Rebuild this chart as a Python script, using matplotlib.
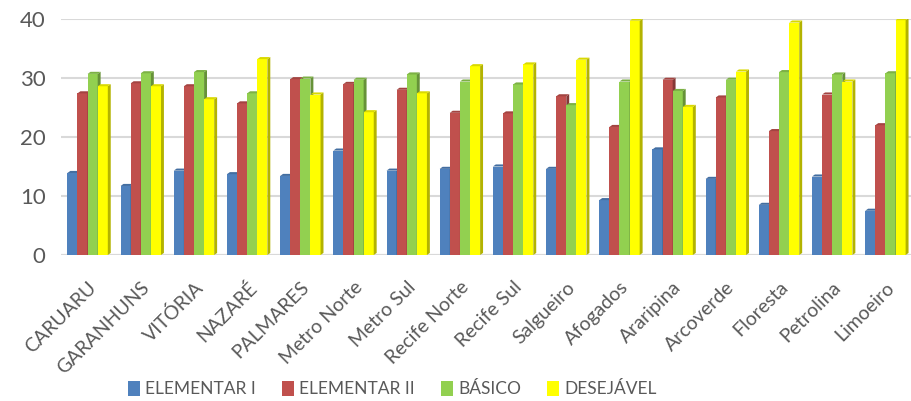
import matplotlib.pyplot as plt
import numpy as np
from matplotlib.patches import Polygon, Patch
import matplotlib.colors as mcolors

# data
regions = ['CARUARU', 'GARANHUNS', 'VITÓRIA', 'NAZARÉ', 'PALMARES', 'Metro Norte',
           'Metro Sul', 'Recife Norte', 'Recife Sul', 'Salgueiro', 'Afogados',
           'Araripina', 'Arcoverde', 'Floresta', 'Petrolina', 'Limoeiro']
elementar1 = [13.9, 11.7, 14.3, 13.7, 13.4, 17.7, 14.3, 14.6, 15.0, 14.6, 9.3, 17.9, 12.9, 8.5, 13.3, 7.5]
elementar2 = [27.4, 29.1, 28.6, 25.7, 29.8, 29.0, 28.0, 24.1, 24.0, 26.9, 21.7, 29.7, 26.7, 21.0, 27.2, 22.0]
basico = [30.7, 30.8, 31.0, 27.4, 29.9, 29.7, 30.6, 29.4, 28.9, 25.4, 29.4, 27.8, 29.7, 31.0, 30.6, 30.8]
desejavel = [28.6, 28.6, 26.4, 33.2, 27.2, 24.2, 27.4, 32.0, 32.3, 33.1, 39.7, 25.1, 31.1, 39.4, 29.4, 39.8]
series_names = ['ELEMENTAR I', 'ELEMENTAR II', 'BÁSICO', 'DESEJÁVEL']
colors = ['#4F81BD', '#C0504D', '#92D050', '#FFFF00']

font = ['Lato', 'DejaVu Sans']
grey = '#595959'

fig = plt.figure(figsize=(9.12, 4.01), dpi=100)
ax = fig.add_axes([61/912, (401-255)/401, 851/912, 236/401])

x = np.arange(len(regions))
w = 0.19
depth_x = 0.055
depth_y = 0.35

def shade(c, f):
    r, g, b = mcolors.to_rgb(c)
    return (r*f, g*f, b*f)

all_series = [elementar1, elementar2, basico, desejavel]
for k, vals in enumerate(all_series):
    xs = x + (k - 1.5) * w
    ax.bar(xs, vals, w, color=colors[k], zorder=3 + k)
    for xi, v in zip(xs, vals):
        # side face
        side = Polygon([(xi + w/2, 0), (xi + w/2 + depth_x, depth_y),
                        (xi + w/2 + depth_x, v + depth_y), (xi + w/2, v)],
                       closed=True, facecolor=shade(colors[k], 0.7), edgecolor='none', zorder=3 + k)
        ax.add_patch(side)
        # top face
        top = Polygon([(xi - w/2, v), (xi + w/2, v), (xi + w/2 + depth_x, v + depth_y),
                       (xi - w/2 + depth_x, v + depth_y)],
                      closed=True, facecolor=shade(colors[k], 0.85), edgecolor='none', zorder=3 + k)
        ax.add_patch(top)

ax.set_xlim(-0.5, len(regions) - 0.5)
ax.set_ylim(0, 40)
ax.set_yticks([0, 10, 20, 30, 40])
ax.yaxis.grid(True, color='#D9D9D9', linewidth=1.5, zorder=0)
ax.axhline(0, color='#D9D9D9', linewidth=1.5, zorder=1)
for s in ax.spines.values():
    s.set_visible(False)
ax.tick_params(axis='both', length=0)
ax.tick_params(axis='y', pad=11)
ax.set_xticks(x)
ax.set_xticklabels(regions, rotation=45, ha='right', rotation_mode='anchor',
                   fontsize=14, color=grey, family=font)
for lbl in ax.get_yticklabels():
    lbl.set_fontsize(16)
    lbl.set_color(grey)
    lbl.set_family(font)
ax.tick_params(axis='x', pad=17)

handles = [Patch(facecolor=c, label=n) for c, n in zip(colors, series_names)]
fig.legend(handles=handles, loc='lower center', bbox_to_anchor=(0.43, -0.03), ncol=4,
           frameon=False, handlelength=0.7, handleheight=1.0, handletextpad=0.3,
           columnspacing=1.5, prop={'family': font, 'size': 12.5}, labelcolor=grey)

fig.savefig('out.png', dpi=100)
